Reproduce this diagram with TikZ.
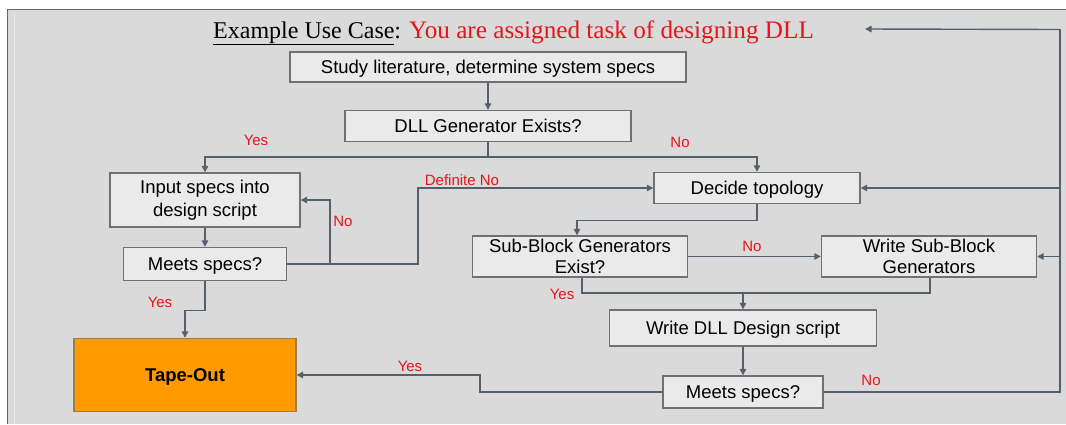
\documentclass[tikz,border=0pt]{standalone}
\usepackage{fontspec}
\setmainfont{Liberation Sans}
\newfontfamily\titlefont{Liberation Serif}
\usetikzlibrary{arrows.meta}
\definecolor{pagebg}{HTML}{DADADA}
\definecolor{boxfill}{HTML}{EAEAEA}
\definecolor{boxline}{HTML}{707070}
\definecolor{wire}{HTML}{56606B}
\definecolor{lblred}{HTML}{E8141B}
\definecolor{tapeorange}{HTML}{FF9A00}
\begin{document}
\begin{tikzpicture}[x=1pt,y=-1pt,
  flowbox/.style={draw=boxline,line width=1.4pt,fill=boxfill,inner sep=2pt,
    align=center,font=\fontsize{18.5}{23}\selectfont},
  onebox/.style={flowbox,text height=13.5pt,text depth=1.5pt},
  tightbox/.style={flowbox,font=\fontsize{18.5}{20.5}\selectfont},
  wireline/.style={draw=wire,line width=1.4pt},
  flow/.style={wireline,-{Triangle[length=6.5pt,width=6.5pt]}},
  lbl/.style={text=lblred,font=\fontsize{15}{17}\selectfont,inner sep=0pt}]
\useasboundingbox (0,0) rectangle (1066,424);
% backdrop
\fill[white] (0,0) rectangle (1066,424);
\fill[pagebg] (7,9) rectangle (1066,424);
\draw[gray!80!black,line width=1pt] (7.5,424) -- (7.5,9.5) -- (1066,9.5);
\draw[white!85!gray,line width=0.8pt] (14,424) -- (14,14);

% heading
\node[anchor=base west,inner sep=0pt,font=\titlefont\fontsize{24}{28}\selectfont] (title) at (213,38)
  {\underline{Example Use Case}: \textcolor{lblred}{\fontsize{25.2}{28}\selectfont You are assigned task of designing DLL}};

% boxes
\node[onebox,minimum width=396pt,minimum height=30pt] (study) at (488,67) {Study literature, determine system specs};
\node[onebox,minimum width=286pt,minimum height=31pt] (dllgen) at (488,126) {DLL Generator Exists?};
\node[flowbox,minimum width=190pt,minimum height=54pt] (input) at (205,200) {Input specs into\\design script};
\node[onebox,minimum width=163pt,minimum height=33pt] (meetsL) at (205,264) {Meets specs?};
\node[onebox,draw=boxline!70!tapeorange,fill=tapeorange,minimum width=222pt,minimum height=73pt,
  font=\bfseries\fontsize{18.5}{22}\selectfont] (tape) at (185,375) {Tape-Out};
\node[onebox,minimum width=206pt,minimum height=31pt] (decide) at (757,188) {Decide topology};
\node[tightbox,minimum width=215pt,minimum height=41pt] (subex) at (580,256.5) {Sub-Block Generators\\Exist?};
\node[tightbox,minimum width=215pt,minimum height=41pt] (writesb) at (929,256.5) {Write Sub-Block\\Generators};
\node[onebox,minimum width=267pt,minimum height=36pt] (writedll) at (743,328) {Write DLL Design script};
\node[onebox,minimum width=160pt,minimum height=32pt] (meetsR) at (743,392) {Meets specs?};

% routing points
\coordinate (split) at (488,157);
\coordinate (retL) at (330,264);
\coordinate (defno) at (418,264);
\coordinate (merge) at (743,293);
\coordinate (loop) at (1060,392);
\coordinate (titleend) at (865,29);

% connectors
\draw[flow] (study) -- (dllgen);
\draw[wireline] (dllgen.south) -- (split);
\draw[flow] (split) -| (input.north);
\draw[flow] (split) -| (decide.north);
\draw[flow] (input) -- (meetsL);
\draw[flow] (meetsL.east) -- (retL) |- (input.east);
\draw[flow] (retL) -- (defno) |- (decide.west);
\draw[flow] (meetsL.south) -- ++(0,29) -| (tape.north);
\draw[flow] (decide.south) -- ++(0,16) -| ([xshift=-3pt]subex.north);
\draw[flow] (subex) -- (writesb);
\draw[wireline] ([xshift=2pt]subex.south) |- (merge) -| ([xshift=1pt]writesb.south);
\draw[flow] (merge) -- (writedll.north);
\draw[flow] (writedll) -- (meetsR);
\draw[flow] (meetsR.west) -- (480,392) |- (tape.east);
\draw[wireline] (meetsR.east) -- (loop) -- (1060,29);
\draw[flow] (1060,29.5) -- (titleend);
\draw[flow] (decide.east -| loop) -- (decide.east);
\draw[flow] (writesb.east -| loop) -- (writesb.east);

% branch labels
\node[lbl] (l1) at (256,140) {Yes};
\node[lbl] (l2) at (680,142) {No};
\node[lbl] (l3) at (343,221) {No};
\node[lbl] (l4) at (462,180) {Definite No};
\node[lbl] (l5) at (160,302) {Yes};
\node[lbl] (l6) at (752,246) {No};
\node[lbl] (l7) at (562,294) {Yes};
\node[lbl] (l8) at (410,366) {Yes};
\node[lbl] (l9) at (871,380) {No};
\end{tikzpicture}
\end{document}
